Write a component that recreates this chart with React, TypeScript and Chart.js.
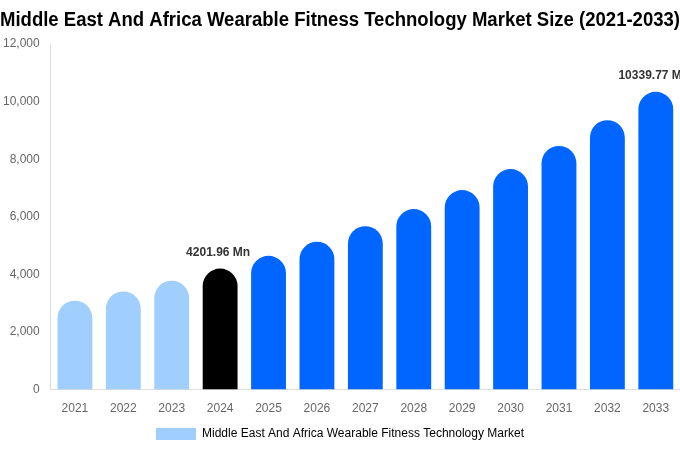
import React, { useEffect, useRef } from "react";
import { Chart, registerables } from "chart.js";

Chart.register(...registerables);

const years = ["2021","2022","2023","2024","2025","2026","2027","2028","2029","2030","2031","2032","2033"];
const marketSize = [3087, 3410, 3780, 4201.96, 4644, 5132, 5672, 6269, 6928, 7657, 8462, 9352, 10339.77];
const barColors = ["#a0cefd","#a0cefd","#a0cefd","#000000","#0066ff","#0066ff","#0066ff","#0066ff","#0066ff","#0066ff","#0066ff","#0066ff","#0066ff"];
const labelledYears = ["2024", "2033"];
const seriesName = "Middle East And Africa Wearable Fitness Technology Market";
const titleText = "Middle East And Africa Wearable Fitness Technology Market Size (2021-2033)";

const valueLabels = {
  id: "valueLabels",
  afterDatasetsDraw(chart: any) {
    const ctx = chart.ctx;
    const meta = chart.getDatasetMeta(0);
    ctx.save();
    ctx.font = "bold 12px 'Liberation Sans', Arial, sans-serif";
    ctx.fillStyle = "#333333";
    ctx.textAlign = "center";
    ctx.textBaseline = "middle";
    meta.data.forEach((bar: any, i: number) => {
      if (!labelledYears.includes(years[i])) return;
      ctx.fillText(marketSize[i].toFixed(2) + " Mn", bar.x - 2, bar.y - 16);
    });
    ctx.restore();
  },
};

export default function App() {
  const ref = useRef<HTMLCanvasElement | null>(null);
  useEffect(() => {
    document.body.style.margin = "0";
    const chart = new Chart(ref.current as HTMLCanvasElement, {
      type: "bar",
      data: {
        labels: years,
        datasets: [
          {
            label: seriesName,
            data: marketSize,
            backgroundColor: barColors,
            borderRadius: 100,
            borderSkipped: "bottom",
          },
        ],
      },
      options: {
        animation: false,
        responsive: false,
        maintainAspectRatio: false,
        layout: { padding: { left: 0, right: 0, top: 0, bottom: 0 } },
        scales: {
          x: {
            grid: { display: false },
            border: { display: true, color: "#dddddd" },
            ticks: { color: "#666666", padding: 4, font: { size: 12, family: "'Liberation Sans', Arial, sans-serif" } },
            afterFit: (s: any) => { s.height += 4; },
          },
          y: {
            min: 0,
            max: 12000,
            grid: { display: false },
            border: { display: true, color: "#dddddd" },
            ticks: {
              stepSize: 2000,
              color: "#666666",
              padding: 3,
              font: { size: 12, family: "'Liberation Sans', Arial, sans-serif" },
              callback: (v: any) => Number(v).toLocaleString("en-US"),
            },
          },
        },
        plugins: {
          title: {
            display: true,
            text: titleText,
            color: "#000000",
            font: { size: 20, weight: "bold", family: "'Liberation Sans Narrow', 'Arial Narrow', 'Liberation Sans', sans-serif" },
            padding: { top: 8, bottom: 12 },
          },
          legend: {
            position: "bottom",
            labels: {
              color: "#666666",
              boxWidth: 40,
              boxHeight: 12,
              padding: 4,
              font: { size: 12, family: "'Liberation Sans', Arial, sans-serif" },
              generateLabels: () => [
                { text: seriesName, fillStyle: barColors[0], strokeStyle: barColors[0], lineWidth: 0, hidden: false, datasetIndex: 0 },
              ],
            },
          },
          tooltip: { enabled: false },
        },
      },
      plugins: [valueLabels],
    });
    return () => chart.destroy();
  }, []);
  return <canvas ref={ref} width={680} height={450} style={{ display: "block" }} />;
}
